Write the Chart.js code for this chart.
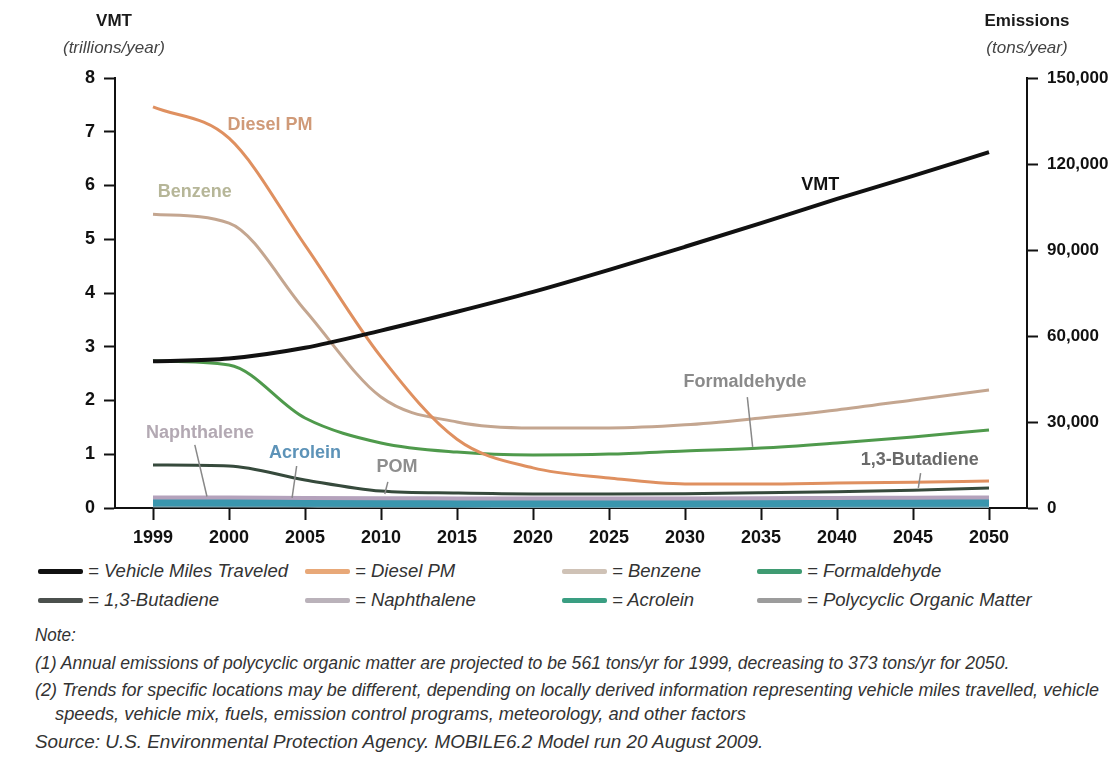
<!DOCTYPE html>
<html>
<head>
<meta charset="utf-8">
<title>VMT and MSAT emissions, 1999-2050</title>
<script src="https://cdn.jsdelivr.net/npm/chart.js@4.4.1/dist/chart.umd.min.js"></script>
<style>
  body { margin: 0; background: #fff; }
  #wrap { position: relative; width: 1120px; height: 764px; font-family: "Liberation Sans", Arial, sans-serif; color: #2b2b2b; }
  #chartBox { position: absolute; left: 0; top: 0; width: 1120px; height: 552px; }
  .axTitle { position: absolute; transform: translateX(-50%); white-space: nowrap; text-align: center; }
  .axTitle b { display: block; font-size: 17px; color: #1a1a1a; }
  .axTitle i { display: block; font-size: 17px; color: #444; margin-top: 7px; }
  .leg { position: absolute; display: flex; align-items: center; white-space: nowrap; font-style: italic; font-size: 18.5px; color: #333; transform: translateY(-50%); }
  .leg span.sw { display: inline-block; width: 45px; height: 5px; border-radius: 2px; margin-right: 5px; }
  .note { position: absolute; white-space: nowrap; font-style: italic; font-size: 18.5px; color: #333; transform-origin: 0 50%; transform: translateY(-50%) scaleX(var(--sx, 1)); }
</style>
</head>
<body>
<div id="wrap">
  <div id="chartBox"><canvas id="emissionsChart"></canvas></div>
  <div class="axTitle" style="left:114px; top:11px;"><b>VMT</b><i>(trillions/year)</i></div>
  <div class="axTitle" style="left:1027px; top:11px;"><b>Emissions</b><i>(tons/year)</i></div>
  <div id="legend"></div>
  <div class="note" style="left:35px; top:635px; --sx:0.92;">Note:</div>
  <div class="note" style="left:35px; top:663px; --sx:0.95;">(1) Annual emissions of polycyclic organic matter are projected to be 561 tons/yr for 1999, decreasing to 373 tons/yr for 2050.</div>
  <div class="note" style="left:35px; top:690px; --sx:0.97;">(2) Trends for specific locations may be different, depending on locally derived information representing vehicle miles travelled, vehicle</div>
  <div class="note" style="left:55px; top:714px; --sx:0.99;">speeds, vehicle mix, fuels, emission control programs, meteorology, and other factors</div>
  <div class="note" style="left:35px; top:742px; --sx:1.02;">Source: U.S. Environmental Protection Agency. MOBILE6.2 Model run 20 August 2009.</div>
</div>

<script>
// years on the x axis (spaced evenly, as in the original)
const years = ['1999', '2000', '2005', '2010', '2015', '2020', '2025', '2030', '2035', '2040', '2045', '2050'];

// VMT, trillions of miles per year (left axis)
const vmt = [2.73, 2.78, 2.98, 3.3, 3.65, 4.02, 4.43, 4.86, 5.3, 5.75, 6.18, 6.62];

// emissions, tons per year (right axis)
const dieselPM     = [139900, 129000, 91700, 52700, 24000, 14000, 10500, 8400, 8400, 8700, 9000, 9400];
const benzene      = [102500, 99400, 69000, 38700, 30000, 27900, 27900, 29000, 31400, 34200, 37700, 41200];
const formaldehyde = [51300, 49900, 31400, 22700, 19500, 18500, 18800, 19900, 20900, 22700, 24800, 27200];
const butadiene    = [15000, 14650, 9800, 5900, 5200, 4900, 4900, 5000, 5300, 5700, 6200, 7000];
const naphthalene  = [3700, 3650, 3500, 3400, 3350, 3300, 3300, 3350, 3400, 3500, 3600, 3700];
const acrolein     = [2000, 1950, 1850, 1750, 1700, 1700, 1700, 1700, 1750, 1800, 1850, 1900];
const pom          = [561, 540, 480, 420, 395, 385, 378, 372, 370, 370, 372, 373];

// left / right axis ticks
const vmtTicks = [0, 1, 2, 3, 4, 5, 6, 7, 8];
const emissionTicks = [0, 30000, 60000, 90000, 120000, 150000];

// in-chart labels: [x index, emissions value], optional leader line
const lineLabels = [
  { text: 'Diesel PM',     at: [1.54, 133600], color: '#d09a78' },
  { text: 'Benzene',       at: [0.55, 110200], color: '#b6b698' },
  { text: 'VMT',           at: [8.78, 112700], color: '#111111' },
  { text: 'Formaldehyde',  at: [7.79, 43900],  color: '#8a8a8a', leader: [7.82, 38700, 7.89, 21300] },
  { text: '1,3-Butadiene', at: [10.09, 16700], color: '#6a6a6a', leader: [10.1, 12200, 10.07, 7000] },
  { text: 'Naphthalene',   at: [0.62, 26200],  color: '#b3a9b3', leader: [0.55, 22000, 0.71, 4000] },
  { text: 'Acrolein',      at: [2.0, 19200],   color: '#5d93b8', leader: [1.89, 14650, 1.83, 3500] },
  { text: 'POM',           at: [3.21, 14300],  color: '#8e8e8e', leader: [3.09, 9100, 3.05, 4900] }
];

const tickFont = { family: '"Liberation Sans", Arial, sans-serif', size: 18, weight: 'bold' };

const lineLabelPlugin = {
  id: 'lineLabels',
  afterDatasetsDraw(chart) {
    const ctx = chart.ctx;
    const x = chart.scales.x;
    const y1 = chart.scales.y1;
    ctx.save();
    ctx.textAlign = 'center';
    ctx.textBaseline = 'middle';
    lineLabels.forEach(l => {
      if (l.leader) {
        ctx.strokeStyle = '#888';
        ctx.lineWidth = 1.5;
        ctx.beginPath();
        ctx.moveTo(x.getPixelForValue(l.leader[0]), y1.getPixelForValue(l.leader[1]));
        ctx.lineTo(x.getPixelForValue(l.leader[2]), y1.getPixelForValue(l.leader[3]));
        ctx.stroke();
      }
      ctx.fillStyle = l.color;
      ctx.font = 'bold 18px "Liberation Sans", Arial, sans-serif';
      ctx.fillText(l.text, x.getPixelForValue(l.at[0]), y1.getPixelForValue(l.at[1]));
    });
    ctx.restore();
  }
};

const datasets = [
  { label: 'Vehicle Miles Traveled', data: vmt, yAxisID: 'y', borderColor: '#111111', borderWidth: 4, legendColor: '#111111' },
  { label: 'Diesel PM', data: dieselPM, yAxisID: 'y1', borderColor: '#df9060', borderWidth: 3, legendColor: '#e8a878' },
  { label: 'Benzene', data: benzene, yAxisID: 'y1', borderColor: '#c4a690', borderWidth: 3, legendColor: '#cfc2b6' },
  { label: 'Formaldehyde', data: formaldehyde, yAxisID: 'y1', borderColor: '#4f9a4c', borderWidth: 3, legendColor: '#3f9b72' },
  { label: '1,3-Butadiene', data: butadiene, yAxisID: 'y1', borderColor: '#364a3c', borderWidth: 3, legendColor: '#4b504d' },
  { label: 'Naphthalene', data: naphthalene, yAxisID: 'y1', borderColor: '#b4a2bc', borderWidth: 4, legendColor: '#bab2ba' },
  { label: 'Acrolein', data: acrolein, yAxisID: 'y1', borderColor: '#3a96ae', borderWidth: 8, legendColor: '#3a9e82' },
  { label: 'Polycyclic Organic Matter', data: pom, yAxisID: 'y1', borderColor: '#7fa4b0', borderWidth: 2, legendColor: '#9c9c9c' }
];
datasets.forEach(d => {
  d.pointRadius = 0;
  d.fill = false;
  d.cubicInterpolationMode = 'monotone';
});

const emissionsChart = new Chart(document.getElementById('emissionsChart'), {
  type: 'line',
  data: { labels: years, datasets: datasets },
  options: {
    responsive: true,
    maintainAspectRatio: false,
    animation: false,
    layout: { padding: { top: 78, left: 0, right: 0, bottom: 0 } },
    plugins: {
      legend: { display: false },
      tooltip: { enabled: false }
    },
    scales: {
      x: {
        offset: true,
        afterFit(s) { s.height = 44; },
        border: { display: true, color: '#111', width: 2 },
        grid: { drawOnChartArea: false, drawTicks: true, tickLength: 12, tickWidth: 2, color: '#111' },
        ticks: { color: '#111', font: tickFont, padding: 7, maxRotation: 0, autoSkip: false }
      },
      y: {
        position: 'left',
        min: 0,
        max: 8,
        afterFit(s) { s.width = 115; },
        afterBuildTicks(s) { s.ticks = vmtTicks.map(v => ({ value: v })); },
        border: { display: true, color: '#111', width: 2 },
        grid: { drawOnChartArea: false, drawTicks: true, tickLength: 11, tickWidth: 2, color: '#111' },
        ticks: { color: '#111', font: tickFont, padding: 9 }
      },
      y1: {
        position: 'right',
        min: 0,
        max: 150000,
        afterFit(s) { s.width = 93; },
        afterBuildTicks(s) { s.ticks = emissionTicks.map(v => ({ value: v })); },
        border: { display: true, color: '#111', width: 2 },
        grid: { drawOnChartArea: false, drawTicks: true, tickLength: 11, tickWidth: 2, color: '#111' },
        ticks: {
          color: '#111',
          font: { family: '"Liberation Sans", Arial, sans-serif', size: 17, weight: 'bold' },
          padding: 9,
          callback: v => v.toLocaleString('en-US')
        }
      }
    }
  },
  plugins: [lineLabelPlugin]
});

// legend, 4 columns x 2 rows, built from the datasets
const legendCols = [38, 305, 562, 757];
const legendRows = [571, 600];
const legendBox = document.getElementById('legend');
datasets.forEach((d, i) => {
  const item = document.createElement('div');
  item.className = 'leg';
  item.style.left = legendCols[i % 4] + 'px';
  item.style.top = legendRows[Math.floor(i / 4)] + 'px';
  item.innerHTML = '<span class="sw" style="background:' + d.legendColor + '"></span>= ' + d.label;
  legendBox.appendChild(item);
});
</script>
</body>
</html>
